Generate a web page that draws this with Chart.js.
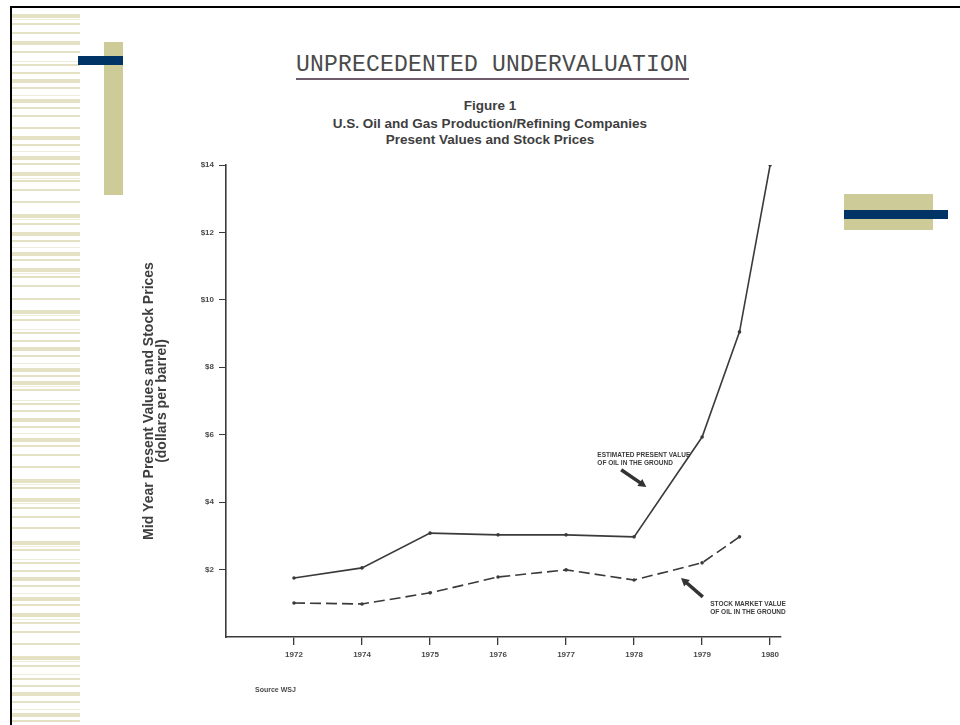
<!DOCTYPE html>
<html>
<head>
<meta charset="utf-8">
<script src="https://cdn.jsdelivr.net/npm/chart.js@4.4.1/dist/chart.umd.min.js"></script>
<style>
  html, body { margin: 0; padding: 0; background: #fff; }
  #slide { position: relative; width: 960px; height: 725px; overflow: hidden; background: #fff; }
  .abs { position: absolute; }
  #stripes div { position: absolute; left: 12px; width: 68px; background: #e4e1c4; }
  #stripes div.thin { background: #eeecdb; }
  #docTitle { left: 296px; top: 52px; font: 23px "Liberation Mono", "DejaVu Sans Mono", monospace; color: #4a4a4a; letter-spacing: 0.2px; white-space: nowrap; }
  #docRule { left: 296px; top: 78px; width: 393px; height: 2px; background: #6d5b6c; }
  .figTitle { left: 290px; width: 400px; text-align: center; font: bold 13.5px/16px "Liberation Sans", Arial, sans-serif; color: #3e3e3e; white-space: nowrap; }
  #source { left: 255px; top: 686px; font: bold 7px "Liberation Sans", Arial, sans-serif; color: #4a4a4a; }
  #chartBox { position: absolute; left: 100px; top: 140px; width: 700px; height: 580px; }
</style>
</head>
<body>
<div id="slide">
  <div class="abs" style="left:10px;top:6px;width:950px;height:2px;background:#000"></div>
  <div class="abs" style="left:10px;top:6px;width:2px;height:719px;background:#000"></div>
  <div id="stripes"></div>
  <div class="abs" style="left:104px;top:42px;width:19px;height:153px;background:#cdcb98"></div>
  <div class="abs" style="left:78px;top:56px;width:45px;height:9px;background:#003366"></div>
  <div class="abs" style="left:844px;top:194px;width:89px;height:36px;background:#cdcb98"></div>
  <div class="abs" style="left:844px;top:210px;width:104px;height:9px;background:#003366"></div>

  <div id="docTitle" class="abs">UNPRECEDENTED UNDERVALUATION</div>
  <div id="docRule" class="abs"></div>
  <div class="abs figTitle" style="top:98px">Figure 1</div>
  <div class="abs figTitle" style="top:116px">U.S. Oil and Gas Production/Refining Companies</div>
  <div class="abs figTitle" style="top:132px">Present Values and Stock Prices</div>

  <div id="chartBox"><canvas id="chart" width="700" height="580"></canvas></div>
  <div id="source" class="abs">Source WSJ</div>
</div>

<script>
// Jahre auf der x-Achse (Index 0..7), Werte in Dollar pro Barrel
const years = ["1972", "1974", "1975", "1976", "1977", "1978", "1979", "1980"];
const yTicks = [2, 4, 6, 8, 10, 12, 14];

const presentX = [0, 1, 2, 3, 4, 5, 6, 6.55, 7];
const presentValues = [1.75, 2.05, 3.08, 3.03, 3.03, 2.97, 5.93, 9.05, 14.0];

const stockX = [0, 1, 2, 3, 4, 5, 6, 6.55];
const stockValues = [1.01, 0.98, 1.31, 1.78, 1.99, 1.69, 2.2, 2.97];

const notes = [
  { lines: ["ESTIMATED PRESENT VALUE", "OF OIL IN THE GROUND"], x: 4.46, y: 5.4, arrow: [4.81, 4.96, 5.18, 4.45] },
  { lines: ["STOCK MARKET VALUE", "OF OIL IN THE GROUND"], x: 6.12, y: 0.98, arrow: [6.01, 1.19, 5.69, 1.75] },
];

// Streifen links (Folienhintergrund)
const stripeRows = [
  [14,4],[19,1],[23,2],[32,2],[41,4],[51,2],[61,1],[64,2],[72,2],[79,4],[87,2],[95,1],[99,4],[107,2],[115,2],
  [127,2],[136,4],[144,2],[151,1],[156,4],[163,2],[172,4],[178,1],[180,2],[189,2],[201,2],[214,4],[219,1],[223,2],
  [232,4],[240,2],[247,1],[252,4],[259,2],[268,4],[273,1],[276,2],[285,2],[298,2],[310,4],[315,1],[319,2],[329,1],
  [332,2],[340,2],[347,4],[355,2],[363,1],[368,4],[375,2],[381,4],[386,1],[389,2],[400,1],[403,2],[410,2],[418,4],
  [426,2],[433,1],[438,4],[445,2],[454,2],[466,2],[479,4],[484,1],[487,2],[498,4],[503,1],[507,2],[516,2],[527,2],
  [541,4],[546,1],[549,2],[559,1],[562,2],[570,2],[577,4],[585,2],[593,1],[597,4],[604,2],[613,4],[619,1],[622,2],
  [631,2],[643,2],[656,4],[661,1],[665,2],[674,1],[678,2],[685,2],[692,4],[701,2],[709,1],[713,4],[720,2]
];
document.getElementById("stripes").innerHTML = stripeRows.map(([y, h]) =>
  `<div class="${h === 1 ? "thin" : ""}" style="top:${y}px;height:${h}px"></div>`).join("");

const ink = "#3a3a3a";
const labelFont = { family: "'Liberation Sans', Arial, sans-serif", size: 8, weight: "bold" };

const notesPlugin = {
  id: "notes",
  afterDatasetsDraw(chart){
    const { ctx, scales: { x, y } } = chart;
    ctx.save();
    ctx.font = "bold 6.5px 'Liberation Sans', Arial, sans-serif";
    ctx.textBaseline = "middle";
    notes.forEach(n => {
      ctx.fillStyle = "#3c3c3c";
      n.lines.forEach((t, i) => ctx.fillText(t, x.getPixelForValue(n.x), y.getPixelForValue(n.y) + i * 8));
      const [x1, y1, x2, y2] = n.arrow;
      const ax = x.getPixelForValue(x1), ay = y.getPixelForValue(y1);
      const bx = x.getPixelForValue(x2), by = y.getPixelForValue(y2);
      const ang = Math.atan2(by - ay, bx - ax);
      ctx.strokeStyle = "#333";
      ctx.lineWidth = 3.5;
      ctx.beginPath();
      ctx.moveTo(ax, ay);
      ctx.lineTo(bx - 5 * Math.cos(ang), by - 5 * Math.sin(ang));
      ctx.stroke();
      ctx.fillStyle = "#333";
      ctx.beginPath();
      ctx.moveTo(bx, by);
      ctx.lineTo(bx - 9 * Math.cos(ang - 0.5), by - 9 * Math.sin(ang - 0.5));
      ctx.lineTo(bx - 9 * Math.cos(ang + 0.5), by - 9 * Math.sin(ang + 0.5));
      ctx.closePath();
      ctx.fill();
    });
    ctx.restore();
  }
};

new Chart(document.getElementById("chart"), {
  type: "line",
  data: {
    datasets: [
      {
        label: "Estimated present value of oil in the ground",
        data: presentX.map((v, i) => ({ x: v, y: presentValues[i] })),
        borderColor: ink, backgroundColor: ink, borderWidth: 1.6,
        pointRadius: 1.8, pointBorderWidth: 0, tension: 0,
      },
      {
        label: "Stock market value of oil in the ground",
        data: stockX.map((v, i) => ({ x: v, y: stockValues[i] })),
        borderColor: ink, backgroundColor: ink, borderWidth: 1.6, borderDash: [11, 5],
        pointRadius: 1.8, pointBorderWidth: 0, tension: 0,
      },
    ],
  },
  options: {
    responsive: false,
    animation: false,
    layout: { padding: { left: 42, top: 25, right: 19, bottom: 0 } },
    plugins: { legend: { display: false }, tooltip: { enabled: false } },
    scales: {
      x: {
        type: "linear", min: -1, max: 7.16,
        afterBuildTicks: s => { s.ticks = years.map((_, i) => ({ value: i })); },
        afterFit: s => { s.height = 83; },
        ticks: { callback: v => years[v] ?? "", color: "#4a4a4a", font: labelFont, padding: 5, maxRotation: 0, autoSkip: false },
        grid: { drawOnChartArea: false, tickLength: 8, color: ink, lineWidth: 1.3 },
        border: { color: ink, width: 1.6 },
      },
      y: {
        min: 0, max: 14,
        afterBuildTicks: s => { s.ticks = yTicks.map(v => ({ value: v })); },
        afterFit: s => { s.width = 84; },
        ticks: { callback: v => "$" + v, color: "#4a4a4a", font: labelFont, padding: 5 },
        grid: { drawOnChartArea: false, tickLength: 7, color: ink, lineWidth: 1 },
        border: { color: ink, width: 1.6 },
        title: {
          display: true,
          text: ["Mid Year Present Values and Stock Prices", "(dollars per barrel)"],
          color: "#3e3e3e",
          font: { family: "'Liberation Sans', Arial, sans-serif", size: 14, weight: "bold", lineHeight: 0.95 },
          padding: { top: 0, bottom: 0 },
        },
      },
    },
  },
  plugins: [notesPlugin],
});
</script>
</body>
</html>
